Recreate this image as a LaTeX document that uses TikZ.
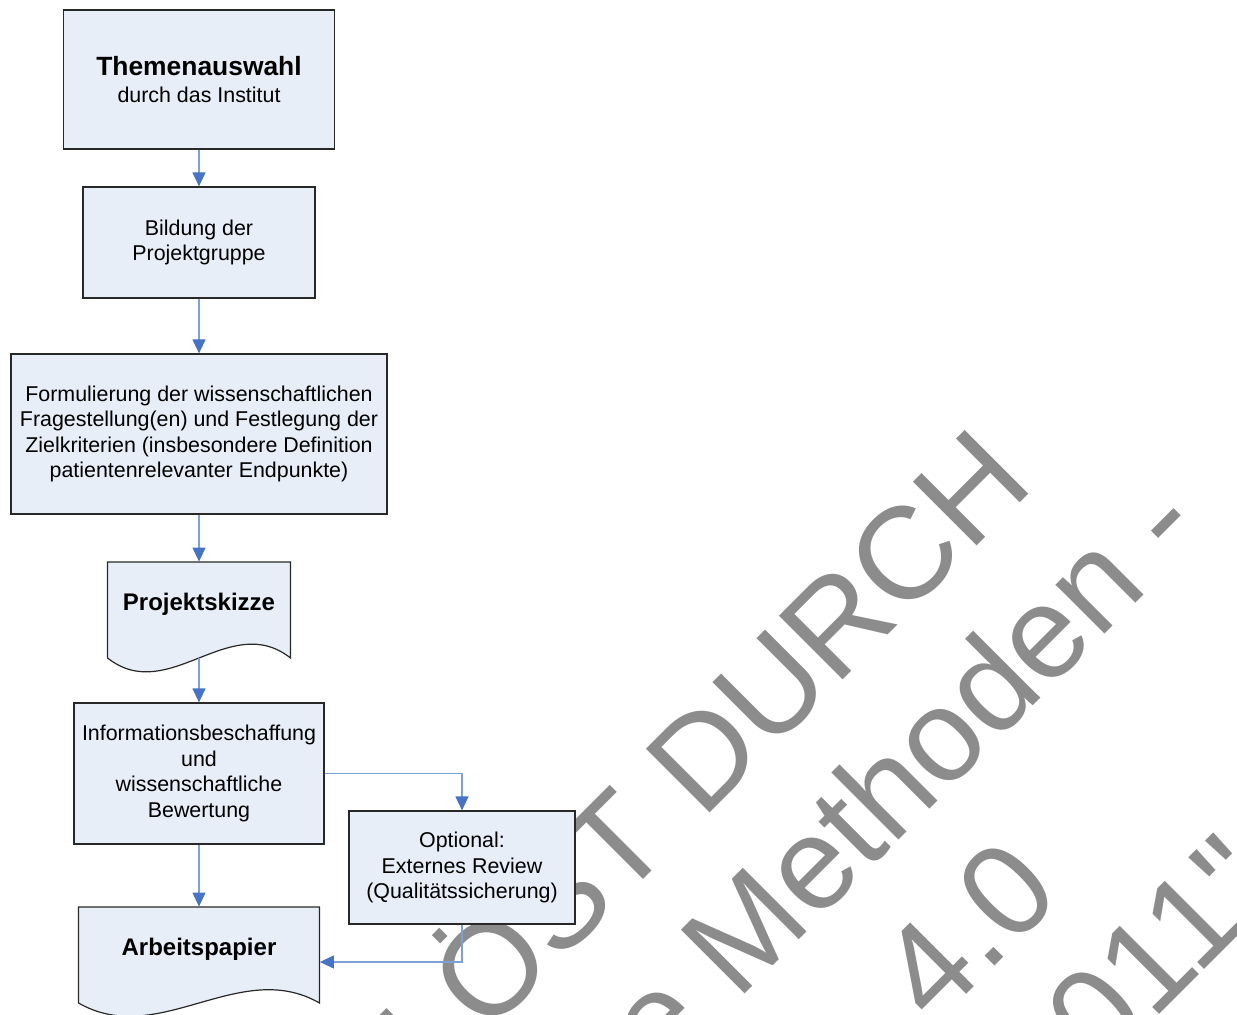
\documentclass[tikz,border=0pt]{standalone}
\usepackage{fontspec}
\setmainfont{Liberation Sans}
\newfontfamily\stampfamily{Liberation Sans}
\usetikzlibrary{arrows.meta}

\definecolor{boxfill}{RGB}{232,238,248}
\definecolor{boxline}{RGB}{40,40,40}
\definecolor{flowline}{RGB}{125,160,215}
\definecolor{flowtip}{RGB}{70,115,195}
\definecolor{stampgray}{RGB}{140,140,140}
\newcommand{\boxfont}{\fontsize{10.7}{12.7}\selectfont}
\newcommand{\titlefont}{\fontsize{12}{14}\selectfont\bfseries}
\newcommand{\stampfont}{\stampfamily\fontsize{65.5}{78}\selectfont}

\begin{document}
\begin{tikzpicture}[x=0.5pt,y=-0.5pt,
  stepbox/.style={draw=boxline,fill=boxfill,line width=0.6pt,inner sep=0pt,align=center,font=\boxfont},
  docbox/.style={inner sep=0pt,font=\titlefont,text depth=8pt},
  docshape/.style={draw=boxline,fill=boxfill,line width=0.6pt},
  flow/.style={draw=flowline,line width=0.6pt,-{Triangle[length=7pt,width=6.5pt,color=flowtip]}},
  stamp/.style={text=stampgray,font=\stampfont,rotate=45,anchor=base east,inner sep=0pt}]
\useasboundingbox (0,0) rectangle (1237,1015);
\clip (0,0) rectangle (1237,1015);
% Watermark behind everything
\node[stamp] (stamp1) at (1037,486) {ABGELÖST DURCH};
\node[stamp] (stamp2) at (1207,532) {„Allgemeine Methoden -};
\node[stamp] (stamp3) at (1064,897) {Version 4.0};
\node[stamp] (stamp4) at (1282,892) {2011"};
% Drawing document shapes
\filldraw[docshape] (107.5,562) -- (290.5,562) -- (290.5,658)
  .. controls +(-61,-48) and +(61,48) .. (107.5,658) -- cycle;
\filldraw[docshape] (78.5,907) -- (319.5,907) -- (319.5,1003)
  .. controls +(-80,-46) and +(80,46) .. (78.5,1003) -- cycle;
% Drawing boxes
\node[stepbox,minimum width=135.5pt,minimum height=69.5pt] (thema) at (199,79.5)
  {{\fontsize{13.2}{15}\selectfont\bfseries Themenauswahl}\\[0.8pt]durch das Institut};
\node[stepbox,minimum width=116pt,minimum height=55.5pt] (bildung) at (199,242.5)
  {Bildung der\\Projektgruppe};
\node[stepbox,minimum width=188pt,minimum height=80pt] (formul) at (199,434)
  {Formulierung der wissenschaftlichen\\Fragestellung(en) und Festlegung der\\Zielkriterien (insbesondere Definition\\patientenrelevanter Endpunkte)};
\node[docbox,minimum width=91.5pt,minimum height=48pt] (skizze) at (199,610) {Projektskizze};
\node[stepbox,minimum width=125pt,minimum height=70.5pt] (info) at (199,773.5)
  {Informationsbeschaffung\\und\\wissenschaftliche\\Bewertung};
\node[stepbox,minimum width=113pt,minimum height=56.5pt] (review) at (462,867.5)
  {Optional:\\Externes Review\\(Qualitätssicherung)};
\node[docbox,minimum width=120.5pt,minimum height=48pt] (papier) at (199,955) {Arbeitspapier};
% Drawing connectors
\draw[flow] (thema) -- (bildung);
\draw[flow] (bildung) -- (formul);
\draw[flow] (formul) -- (skizze);
\draw[flow] (skizze) -- (info);
\draw[flow] (info) -- (papier);
\draw[flow] (info.east) -| (review.north);
\draw[flow] (review.south) |- ([yshift=-3.5pt]papier.east);
\end{tikzpicture}
\end{document}
